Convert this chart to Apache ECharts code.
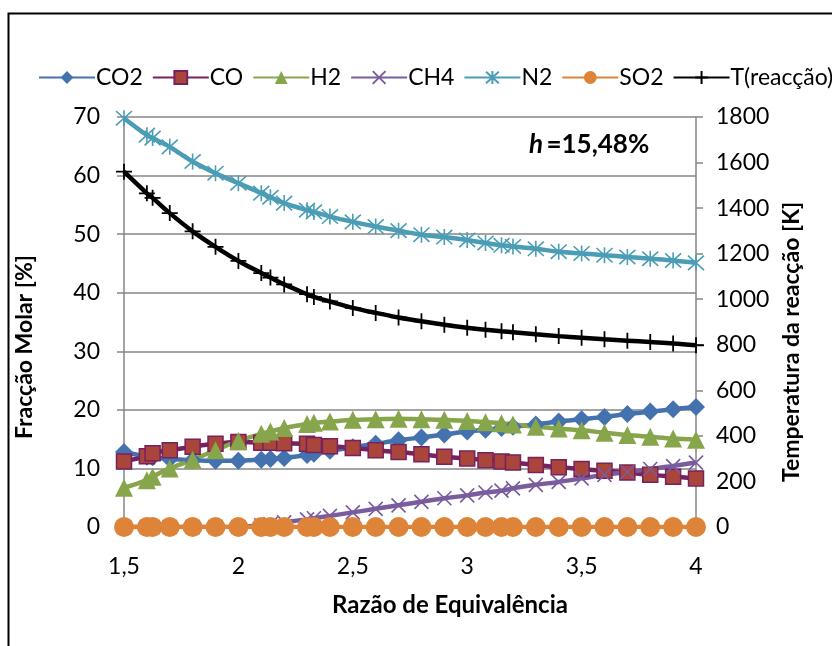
<!DOCTYPE html>
<html>
<head>
<meta charset="utf-8">
<script src="https://cdn.jsdelivr.net/npm/echarts@6/dist/echarts.min.js"></script>
<style>
body{margin:0;background:#fff}
#chart{width:832px;height:646px}
</style>
</head>
<body>
<div id="chart"></div>
<script>
// razao de equivalencia
var phi = [1.5, 1.6, 1.625, 1.7, 1.8, 1.9, 2.0, 2.1, 2.14, 2.2, 2.3, 2.33, 2.4, 2.5, 2.6, 2.7, 2.8, 2.9, 3.0, 3.08, 3.15, 3.2, 3.3, 3.4, 3.5, 3.6, 3.7, 3.8, 3.9, 4.0];

var co2 = [12.8, 12.0, 11.9, 11.6, 11.4, 11.3, 11.3, 11.5, 11.6, 11.8, 12.3, 12.5, 13.0, 13.6, 14.2, 14.8, 15.3, 15.8, 16.3, 16.6, 16.9, 17.1, 17.5, 18.0, 18.4, 18.8, 19.3, 19.7, 20.1, 20.5];
var co = [11.2, 12.1, 12.6, 13.1, 13.7, 14.2, 14.5, 14.4, 14.4, 14.3, 14.2, 14.0, 13.8, 13.5, 13.1, 12.8, 12.4, 12.0, 11.7, 11.4, 11.2, 11.0, 10.6, 10.2, 9.9, 9.6, 9.3, 8.9, 8.6, 8.3];
var h2 = [6.7, 8.0, 8.6, 10.0, 11.5, 13.1, 14.7, 15.9, 16.3, 16.9, 17.6, 17.8, 18.0, 18.3, 18.4, 18.5, 18.4, 18.3, 18.1, 17.9, 17.7, 17.5, 17.1, 16.8, 16.5, 16.1, 15.7, 15.4, 15.1, 14.9];
var ch4 = [0, 0, 0, 0, 0, 0, 0, 0.3, 0.5, 0.8, 1.3, 1.5, 1.9, 2.5, 3.1, 3.7, 4.3, 4.9, 5.4, 5.9, 6.2, 6.6, 7.2, 7.7, 8.3, 8.9, 9.4, 9.9, 10.4, 11.0];
var n2 = [69.8, 66.9, 66.4, 64.9, 62.4, 60.4, 58.7, 57.0, 56.3, 55.3, 54.1, 53.8, 53.0, 52.1, 51.3, 50.6, 49.9, 49.5, 49.0, 48.5, 48.1, 47.9, 47.5, 47.0, 46.7, 46.4, 46.1, 45.8, 45.5, 45.1];
var so2 = [0, 0, 0, 0, 0, 0, 0, 0, 0, 0, 0, 0, 0, 0, 0, 0, 0, 0, 0, 0, 0, 0, 0, 0, 0, 0, 0, 0, 0, 0];
var tReac = [1560, 1465, 1445, 1378, 1298, 1230, 1168, 1115, 1095, 1065, 1022, 1010, 990, 962, 940, 920, 903, 888, 875, 866, 859, 855, 846, 838, 831, 824, 818, 812, 806, 798];

function pairs(ys){
	var out = [];
	for (var i = 0; i < phi.length; i++) out.push([phi[i], ys[i]]);
	return out;
}

var FONT = 'Lato';
var symX = 'path://M0,0L10,10M10,0L0,10';
var symStar = 'path://M5,0L5,10M0.5,0.5L9.5,9.5M9.5,0.5L0.5,9.5';
var symPlus = 'path://M5,0L5,10M0,5L10,5';

function mkSeries(name, ys, color, symbol, size, item, axis){
	return {
		name: name,
		type: 'line',
		yAxisIndex: axis || 0,
		data: pairs(ys),
		smooth: 0.35,
		symbol: symbol,
		symbolSize: size,
		showAllSymbol: true,
		lineStyle: {color: color, width: 4.5},
		itemStyle: item,
		emphasis: {disabled: true},
		animation: false
	};
}

var chart = echarts.init(document.getElementById('chart'));

var option = {
	animation: false,
	grid: {left: 124, right: 136, top: 117, bottom: 119},
	legend: {
		left: 33, top: 61, width: 1000,
		itemWidth: 56, itemHeight: 16, itemGap: 9,
		textStyle: {fontFamily: FONT, fontSize: 23, color: '#000', padding: [0,0,0,-4]},
		data: ['CO2', 'CO', 'H2', 'CH4', 'N2', 'SO2', 'T(reacção)']
	},
	xAxis: {
		type: 'value', min: 1.5, max: 4, interval: 0.5,
		name: 'Razão de Equivalência', nameLocation: 'middle', nameGap: 66,
		nameTextStyle: {fontFamily: FONT, fontSize: 24, fontWeight: 'bold', color: '#000', padding: [0,0,0,80]},
		axisLine: {show: true, lineStyle: {color: '#868686', width: 1.5}},
		axisTick: {show: false},
		splitLine: {show: false},
		axisLabel: {fontFamily: FONT, fontSize: 23, color: '#000', margin: 28,
			formatter: function(v){ return String(v).replace('.', ','); }}
	},
	yAxis: [{
		type: 'value', min: 0, max: 70, interval: 10,
		name: 'Fracção Molar [%]', nameLocation: 'middle', nameGap: 88, nameRotate: 90,
		nameTextStyle: {fontFamily: FONT, fontSize: 23, fontWeight: 'bold', color: '#000', padding: [0,50,0,0]},
		axisLine: {show: true, lineStyle: {color: '#868686', width: 1.5}},
		axisTick: {show: true, length: 7, lineStyle: {color: '#868686', width: 1.5}},
		splitLine: {lineStyle: {color: '#868686', width: 1.5}},
		axisLabel: {fontFamily: FONT, fontSize: 23, color: '#000', margin: 24}
	}, {
		type: 'value', min: 0, max: 1800, interval: 200,
		name: 'Temperatura da reacção [K]', nameLocation: 'middle', nameGap: 82, nameRotate: 90,
		nameTextStyle: {fontFamily: FONT, fontSize: 23, fontWeight: 'bold', color: '#000', padding: [0,40,0,0]},
		axisLine: {show: true, lineStyle: {color: '#868686', width: 1.5}},
		axisTick: {show: true, length: 7, lineStyle: {color: '#868686', width: 1.5}},
		splitLine: {show: false},
		axisLabel: {fontFamily: FONT, fontSize: 23, color: '#000', margin: 20,
			formatter: function(v){ return String(v); }}
	}],
	graphic: [{
		type: 'rect', silent: true,
		shape: {x: 8.5, y: 13.5, width: 900, height: 800},
		style: {fill: 'none', stroke: '#000', lineWidth: 2}
	}, {
		type: 'text', left: 529, top: 132, silent: true,
		style: {
			text: '{i|h} {b|=15,48%}',
			rich: {
				i: {fontFamily: FONT, fontSize: 26, fontWeight: 'bold', fontStyle: 'italic', fill: '#000'},
				b: {fontFamily: FONT, fontSize: 26, fontWeight: 'bold', fill: '#000'}
			}
		}
	}],
	series: [
		mkSeries('CO2', co2, '#4472AE', 'diamond', 18, {color: '#4472AE'}),
		mkSeries('CO', co, '#772160', 'rect', 15, {color: '#A9453A', borderColor: '#772160', borderWidth: 1.5}),
		mkSeries('H2', h2, '#87A54A', 'triangle', 18, {color: '#87A54A'}),
		mkSeries('CH4', ch4, '#7A5C9E', symX, 14, {color: 'rgba(0,0,0,0)', borderColor: '#7A5C9E', borderWidth: 1.6}),
		mkSeries('N2', n2, '#4A9DB5', symStar, 16, {color: 'rgba(0,0,0,0)', borderColor: '#4A9DB5', borderWidth: 1.6}),
		mkSeries('SO2', so2, '#DE8439', 'circle', 20, {color: '#DE8439'}),
		mkSeries('T(reacção)', tReac, '#000000', symPlus, 16, {color: 'rgba(0,0,0,0)', borderColor: '#000', borderWidth: 1.8}, 1)
	]
};

chart.setOption(option);
</script>
</body>
</html>
